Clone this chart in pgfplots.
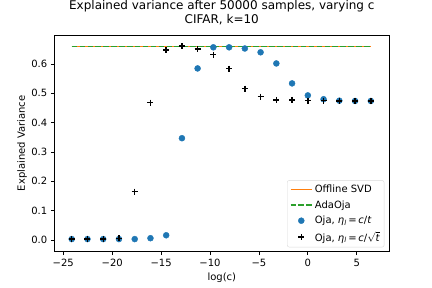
\documentclass[border=0pt]{standalone}
\usepackage{pgfplots}
\pgfplotsset{compat=1.18}
\usepackage{fontspec}
\setmainfont{DejaVu Sans}
\definecolor{mplblue}{HTML}{1F77B4}
\definecolor{mplorange}{HTML}{FF7F0E}
\definecolor{mplgreen}{HTML}{2CA02C}
\pgfplotsset{
  linelegend/.style={legend image code/.code={\draw[##1] (0pt,0pt) -- (21.6pt,0pt);}},
  marklegend/.style={legend image code/.code={\draw[##1] plot coordinates {(10.8pt,0pt)};}},
}
\begin{document}
\begin{tikzpicture}
\path[use as bounding box] (0,0) rectangle (432pt,288pt);
\begin{axis}[
  at={(54.3pt,36.3pt)}, anchor=south west,
  scale only axis, width=335pt, height=216.4pt,
  xmin=-25.92, xmax=8.33, ymin=-0.040, ymax=0.698,
  xtick={-25,-20,-15,-10,-5,0,5},
  xticklabels={−25,−20,−15,−10,−5,0,5},
  ytick={0,0.1,0.2,0.3,0.4,0.5,0.6},
  yticklabels={0.0,0.1,0.2,0.3,0.4,0.5,0.6},
  tick align=outside, tick pos=left,
  major tick length=3.5pt,
  tick style={black, line width=0.8pt},
  axis line style={line width=0.8pt},
  ticklabel style={font=\fontsize{10}{12}\selectfont},
  xlabel={log(c)}, ylabel={Explained Variance},
  label style={font=\fontsize{10}{12}\selectfont},
  xlabel style={at={(axis description cs:0.5,-0.134)}, anchor=base},
  ylabel style={at={(axis description cs:-0.0875,0.5)}, anchor=base},
  title={Explained variance after 50000 samples, varying c\\CIFAR, k=10},
  title style={align=center, font=\fontsize{12}{14.3}\selectfont, at={(0.5,1)}, anchor=south,
    inner sep=0pt, text depth=0pt, yshift=5.7pt},
  legend style={at={(axis description cs:1,0)}, anchor=south east, xshift=-5pt, yshift=4.4pt,
    draw=black!15, rounded corners=2pt,
    font=\fontsize{10}{12}\selectfont, row sep=2.5pt, inner sep=2.5pt},
  legend cell align=left,
]
\addplot[mplorange, line width=1.5pt, linelegend] coordinates {(-24.14,0.659) (6.44,0.659)};
\addlegendentry{Offline SVD}
\addplot[mplgreen, line width=1.5pt, dash pattern=on 5.5pt off 2.4pt, linelegend] coordinates {(-24.14,0.659) (6.44,0.659)};
\addlegendentry{AdaOja}
\addplot[only marks, mark=*, mark size=3pt, mark options={fill=mplblue, draw=mplblue}, marklegend] coordinates {
(-24.14,0.003) (-22.53,0.003) (-20.92,0.003) (-19.31,0.003) (-17.70,0.003)
(-16.09,0.006) (-14.48,0.016) (-12.87,0.347) (-11.27,0.585) (-9.66,0.657)
(-8.05,0.657) (-6.44,0.653) (-4.83,0.640) (-3.22,0.602) (-1.61,0.534)
(0,0.493) (1.61,0.480) (3.22,0.475) (4.83,0.474) (6.44,0.474)};
\addlegendentry{Oja, \textit{η}\textsubscript{\textit{l}}\,=\,\textit{c}/\textit{t}}
\addplot[only marks, mark=+, mark size=3pt, mark options={draw=black, line width=1.4pt}, marklegend] coordinates {
(-24.14,0.003) (-22.53,0.003) (-20.92,0.003) (-19.31,0.006) (-17.70,0.165)
(-16.09,0.468) (-14.48,0.648) (-12.87,0.661) (-11.27,0.651) (-9.66,0.632)
(-8.05,0.584) (-6.44,0.516) (-4.83,0.489) (-3.22,0.478) (-1.61,0.478)
(0,0.475) (1.61,0.475) (3.22,0.474) (4.83,0.474) (6.44,0.474)};
\addlegendentry{Oja, \textit{η}\textsubscript{\textit{l}}\,=\,\textit{c}/$\sqrt{\textit{t}}$}
\end{axis}
\end{tikzpicture}
\end{document}
